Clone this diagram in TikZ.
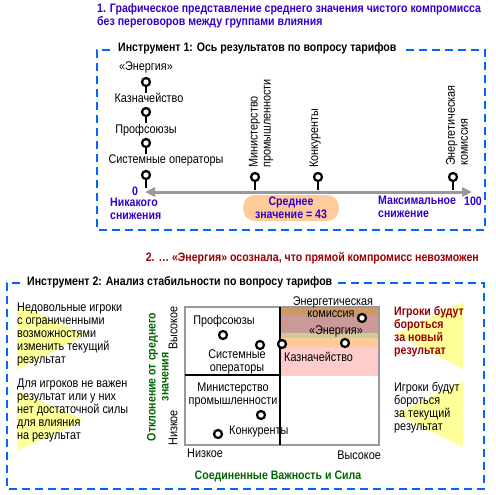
\documentclass[tikz,border=0pt]{standalone}
\usepackage{fontspec}
\setmainfont{Liberation Sans}[FakeStretch=0.86]
\usetikzlibrary{arrows.meta}
\definecolor{ramkablue}{HTML}{0066FF}
\definecolor{titleblue}{HTML}{3300CC}
\definecolor{titlered}{HTML}{990000}
\definecolor{axisgray}{HTML}{999999}
\definecolor{zelen}{HTML}{006600}
\definecolor{zhelt}{HTML}{FFFF99}
\definecolor{persik}{HTML}{FFCC99}
\definecolor{polosa1}{HTML}{CC9966}
\definecolor{polosa2}{HTML}{CC9999}
\definecolor{polosa3}{HTML}{CCCC99}
\definecolor{polosa5}{HTML}{FFCCCC}
\tikzset{
  txt/.style={inner sep=0pt,font=\fontsize{12.6}{13}\selectfont},
  btxt/.style={txt,font=\fontsize{12.3}{13}\selectfont\bfseries},
  ramka/.style={ramkablue,line width=2.5pt,dash pattern=on 8pt off 5pt},
  ring/.style={circle,draw=black,fill=white,line width=2.2pt,minimum size=8pt,inner sep=0pt},
  stem/.style={line width=2.2pt},
  quad/.style={line width=2pt}
}
\begin{document}
\begin{tikzpicture}[x=1pt,y=-1pt]
\useasboundingbox (0,0) rectangle (496,495);
%\draw[help lines] (0,0) grid[step=50] (496,495);
% zagolovok 1
\node[btxt,titleblue,anchor=west,align=left] (head1) at (97,16)
  {1. Графическое представление среднего значения чистого компромисса\\без переговоров между группами влияния};
% instrument 1
\draw[ramka] (110,50) -- (97,50) -- (97,230) -- (485,230) -- (485,50) -- (404,50);
\node[btxt,anchor=west] (ins1) at (118,48) {Инструмент 1: Ось результатов по вопросу тарифов};
\node[txt] (energ1) at (146,67) {«Энергия»};
\node[ring] (r1) at (146,82) {};
\draw[stem] (r1.south) -- ++(0,6);
\node[txt] (kazna1) at (149,98) {Казначейство};
\node[ring] (r2) at (146,112) {};
\draw[stem] (r2.south) -- ++(0,6);
\node[txt] (prof1) at (146,130) {Профсоюзы};
\node[ring] (r3) at (146,143) {};
\draw[stem] (r3.south) -- ++(0,6);
\node[txt] (sist1) at (166,160) {Системные операторы};
\node[ring] (r4) at (146,175) {};
\draw[stem] (r4.south) -- ++(0,8);
% os
\coordinate (ax0) at (145,192);
\coordinate (ax1) at (472,192);
\draw[axisgray,line width=3pt,{Triangle[length=10pt,width=9pt]}-{Triangle[length=10pt,width=9pt]}] (ax0) -- (ax1);
\node[ring] (r5) at (255,177) {};
\draw[stem] (r5.south) -- ++(0,8);
\node[ring] (r6) at (318,177) {};
\draw[stem] (r6.south) -- ++(0,8);
\node[ring] (r7) at (453,177) {};
\draw[stem] (r7.south) -- ++(0,8);
\node[txt,rotate=90,anchor=west,align=left] (minist1) at (261,168) {Министерство\\промышленности};
\node[txt,rotate=90,anchor=west] (konk1) at (315,168) {Конкуренты};
\node[txt,rotate=90,anchor=west,align=left] (komis1) at (457,166) {Энергетическая\\комиссия};
\node[btxt,titleblue] (nol) at (135,191) {0};
\node[btxt,titleblue,anchor=west,align=left] (nikak) at (110,209) {Никакого\\снижения};
\node[btxt,titleblue,fill=persik,rounded corners=12pt,minimum width=96pt,minimum height=26pt,align=center] (sredn) at (291,208) {Среднее\\значение = 43};
\node[btxt,titleblue,anchor=west,align=left] (maks) at (378,207) {Максимальное\\снижение};
\node[btxt,titleblue] (sto) at (473,201) {100};
% zagolovok 2
\node[btxt,titlered,anchor=east] (head2) at (479,258) {2. … «Энергия» осознала, что прямой компромисс невозможен};
% instrument 2
\draw[ramka] (20,283) -- (7,283) -- (7,489) -- (484,489) -- (484,283) -- (337,283);
\node[btxt,anchor=west] (ins2) at (27,282) {Инструмент 2: Анализ стабильности по вопросу тарифов};
% zheltye treugolniki
\fill[zhelt] (17,304) -- (85,335) -- (17,370) -- cycle;
\fill[zhelt] (17,391) -- (85,420) -- (17,451) -- cycle;
\fill[zhelt] (463,302) -- (396,334) -- (463,369) -- cycle;
\fill[zhelt] (463,381) -- (396,414) -- (463,447) -- cycle;
\node[txt,anchor=north west,align=left] (nedov) at (17,303) {Недовольные игроки\\с ограниченными\\возможностями\\изменить текущий\\результат};
\node[txt,anchor=north west,align=left] (nevazh) at (17,379) {Для игроков не важен\\результат или у них\\нет достаточной силы\\для влияния\\на результат};
\node[btxt,titlered,anchor=north west,align=left] (novyj) at (394,306) {Игроки будут\\бороться\\за новый\\результат};
\node[txt,anchor=north west,align=left] (tekush) at (394,382) {Игроки будут\\бороться\\за текущий\\результат};
% grafik
\fill[polosa1] (280,307) rectangle (379,315);
\fill[polosa2] (280,315) rectangle (379,333);
\fill[polosa3] (280,333) rectangle (379,338);
\fill[persik] (280,338) rectangle (379,348);
\fill[polosa5] (280,348) rectangle (379,376);
\draw[axisgray,line width=2pt] (185,307) rectangle (379,445);
\coordinate (vtop) at (280,307);
\coordinate (vbot) at (280,445);
\coordinate (hl) at (185,375);
\coordinate (hr) at (280,375);
\draw[quad] (vtop) -- (vbot);
\draw[quad] (hl) -- (hr);
\node[txt] (komis2) at (333,302) {Энергетическая};
\node[txt] (komis2b) at (331,314) {комиссия};
\node[txt] (energ2) at (336,331) {«Энергия»};
\node[txt,anchor=west] (kazna2) at (284,357) {Казначейство};
\node[txt] (prof2) at (224,321) {Профсоюзы};
\node[txt,align=center] (sist2) at (237,362) {Системные\\операторы};
\node[txt,align=center] (minist2) at (233,395) {Министерство\\промышленности};
\node[txt,anchor=west] (konk2) at (229,431) {Конкуренты};
\node[ring] (q1) at (362,318) {};
\node[ring] (q2) at (345,343) {};
\node[ring] (q3) at (282,344) {};
\node[ring] (q4) at (260,345) {};
\node[ring] (q5) at (223,335) {};
\node[ring] (q6) at (261,415) {};
\node[ring] (q7) at (218,434) {};
\node[txt,rotate=90,anchor=east] (vys1) at (173,306) {Высокое};
\node[txt,rotate=90,anchor=west] (niz1) at (173,446) {Низкое};
\node[txt,anchor=west] (niz2) at (187,453) {Низкое};
\node[txt,anchor=east] (vys2) at (381,455) {Высокое};
\node[btxt,zelen,rotate=90,align=center] (otkl) at (158,377) {Отклонение от среднего\\значения};
\node[btxt,zelen] (soed) at (278,476) {Соединенные Важность и Сила};
\end{tikzpicture}
\end{document}
